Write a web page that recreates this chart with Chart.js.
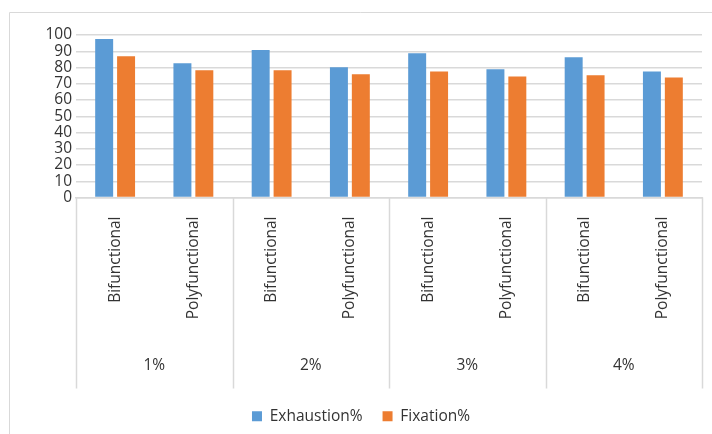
<!DOCTYPE html>
<html lang="en">
<head>
    <meta charset="UTF-8">
    <title>Exhaustion / Fixation</title>
    <script src="https://cdn.jsdelivr.net/npm/chart.js"></script>
    <style>
        html, body { margin: 0; padding: 0; background: #fff; }
        .chart-container { position: relative; width: 712px; height: 434px; }
    </style>
</head>
<body>
    <div class="chart-container">
        <canvas id="barChart"></canvas>
    </div>

    <script>
        // data
        const categories = ['Bifunctional', 'Polyfunctional', 'Bifunctional', 'Polyfunctional',
                            'Bifunctional', 'Polyfunctional', 'Bifunctional', 'Polyfunctional'];
        const groups = ['1%', '2%', '3%', '4%'];
        const exhaustion = [97.5, 82.6, 90.7, 80.1, 88.8, 78.9, 86.3, 77.6];
        const fixation = [87, 78.3, 78.3, 75.8, 77.6, 74.5, 75.2, 73.9];

        const gridGray = '#d9d9d9';
        const textColor = '#333333';
        const fontFamily = '"Open Sans", "Liberation Sans", sans-serif';
        const fontSize = 15.5;

        // outer frame + group separators below the axis
        const framePlugin = {
            id: 'frame',
            beforeDraw(chart) {
                const ctx = chart.ctx;
                ctx.save();
                ctx.strokeStyle = gridGray;
                ctx.lineWidth = 1;
                ctx.beginPath();
                ctx.moveTo(9.5, chart.height);
                ctx.lineTo(9.5, 12.5);
                ctx.lineTo(chart.width, 12.5);
                ctx.stroke();
                ctx.restore();
            },
            afterDraw(chart) {
                const x = chart.scales.x;
                const x2 = chart.scales.x2;
                const ctx = chart.ctx;
                const step = x.width / groups.length;
                ctx.save();
                ctx.strokeStyle = gridGray;
                ctx.lineWidth = 1.5;
                ctx.beginPath();
                for (let i = 0; i <= groups.length; i++) {
                    const px = Math.round(x.left + i * step) + 0.5;
                    ctx.moveTo(px, chart.chartArea.bottom);
                    ctx.lineTo(px, x2.bottom);
                }
                ctx.stroke();
                ctx.restore();
            }
        };

        const ctx = document.getElementById('barChart').getContext('2d');
        new Chart(ctx, {
            type: 'bar',
            data: {
                labels: categories,
                datasets: [{
                    label: 'Exhaustion%',
                    data: exhaustion,
                    backgroundColor: '#5b9bd5',
                    barPercentage: 0.82,
                    categoryPercentage: 0.56
                }, {
                    label: 'Fixation%',
                    data: fixation,
                    backgroundColor: '#ed7d31',
                    barPercentage: 0.82,
                    categoryPercentage: 0.56
                }]
            },
            options: {
                responsive: true,
                maintainAspectRatio: false,
                animation: false,
                layout: {
                    padding: { left: 20, right: 10, top: 35, bottom: 0 }
                },
                plugins: {
                    tooltip: { enabled: false },
                    legend: {
                        position: 'bottom',
                        labels: {
                            boxWidth: 10,
                            boxHeight: 10,
                            padding: 20,
                            color: textColor,
                            font: { family: fontFamily, size: fontSize }
                        }
                    }
                },
                scales: {
                    y: {
                        min: 0,
                        max: 100,
                        ticks: {
                            stepSize: 10,
                            autoSkip: false,
                            padding: 4,
                            color: textColor,
                            font: { family: fontFamily, size: fontSize }
                        },
                        grid: { color: gridGray, lineWidth: 1.5, drawTicks: false },
                        border: { display: false },
                        afterFit(scale) { scale.width = 56; }
                    },
                    x: {
                        grid: { drawOnChartArea: false, drawTicks: false },
                        border: { color: gridGray, width: 1.5 },
                        ticks: {
                            minRotation: 90,
                            maxRotation: 90,
                            autoSkip: false,
                            padding: 19,
                            color: textColor,
                            font: { family: fontFamily, size: fontSize }
                        },
                        afterFit(scale) { scale.height = 150; }
                    },
                    x2: {
                        type: 'category',
                        labels: groups,
                        position: 'bottom',
                        offset: true,
                        grid: { display: false, drawTicks: false },
                        border: { display: false },
                        ticks: {
                            padding: 9,
                            color: textColor,
                            font: { family: fontFamily, size: fontSize }
                        },
                        afterFit(scale) { scale.height = 41; }
                    }
                }
            },
            plugins: [framePlugin]
        });
    </script>
</body>
</html>
